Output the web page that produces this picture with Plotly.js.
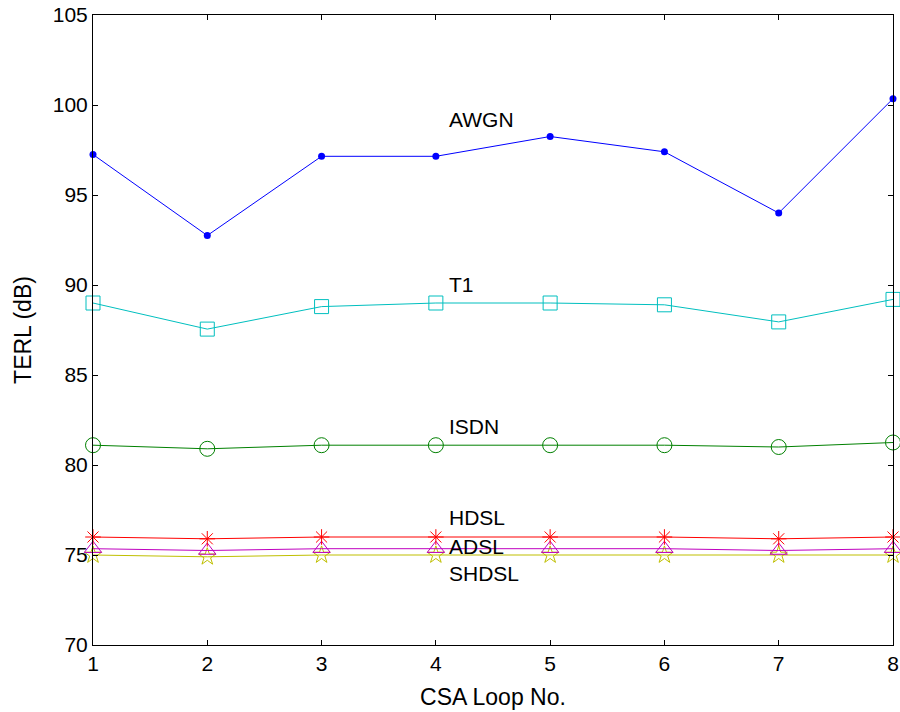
<!DOCTYPE html>
<html><head><meta charset="utf-8">
<script src="https://cdn.plot.ly/plotly-3.0.1.min.js"></script>
<style>body{margin:0;background:#fff}#c{width:900px;height:712px}</style>
</head><body><div id="c"></div><script>
const loops = [1,2,3,4,5,6,7,8];
const awgn  = [97.25, 92.75, 97.15, 97.15, 98.25, 97.4, 94.0, 100.35];
const t1    = [89.0, 87.55, 88.8, 89.0, 89.0, 88.9, 87.95, 89.2];
const isdn  = [81.1, 80.9, 81.1, 81.1, 81.1, 81.1, 81.0, 81.25];
const hdsl  = [76.0, 75.9, 76.0, 76.0, 76.0, 76.0, 75.9, 76.0];
const adsl  = [75.35, 75.25, 75.35, 75.35, 75.35, 75.35, 75.25, 75.35];
const shdsl = [75.0, 74.9, 75.0, 75.0, 75.0, 75.0, 75.0, 75.0];
const seriesNames = ['AWGN','T1','ISDN','HDSL','ADSL','SHDSL'];
const labelX = [4.1, 4.1, 4.1, 4.1, 4.1, 4.1];
const labelY = [99.2, 90.05, 82.15, 77.1, 75.45, 74.0];
const yTicks = [70,75,80,85,90,95,100,105];

const FONT = 'Liberation Sans, Arial, Helvetica';
function tr(y, color, symbol, size, w) {
  return {x: loops, y: y, type: 'scatter', mode: 'lines+markers', cliponaxis: false,
    line: {color: color, width: 1},
    marker: {symbol: symbol, size: size, color: color, line: {color: color, width: w}}};
}
const data = [
  tr(shdsl, '#bfbf00', 'star-open', 13, 1),
  tr(adsl, '#bf00bf', 'triangle-up-open', 15, 1),
  tr(hdsl, '#ff0000', 'asterisk-open', 13, 1),
  tr(isdn, '#008000', 'circle-open', 15, 1),
  tr(t1, '#00bfbf', 'square-open', 14, 1),
  tr(awgn, '#0000ff', 'circle', 7, 0)
];
const annotations = seriesNames.map((n,i)=>({x: labelX[i], y: labelY[i], text: n, xref:'x', yref:'y',
  showarrow:false, xanchor:'left', yanchor:'middle', font:{family:FONT, size:21, color:'#000'}}));
const axisCommon = {showline:true, mirror:'ticks', linecolor:'#000', linewidth:1, ticks:'inside', ticklen:5,
  tickcolor:'#000', showgrid:false, zeroline:false, tickfont:{family:FONT, size:21, color:'#000'}};
const layout = {
  width:900, height:712, margin:{l:93, r:7, t:15, b:67}, showlegend:false,
  paper_bgcolor:'#fff', plot_bgcolor:'#fff',
  xaxis: Object.assign({}, axisCommon, {range:[1,8], tickvals:loops, ticktext:loops.map(String),
    title:{text:'CSA Loop No.', font:{family:FONT, size:23, color:'#000'}, standoff:14}}),
  yaxis: Object.assign({}, axisCommon, {range:[70,105], tickvals:yTicks, ticktext:yTicks.map(String),
    title:{text:'TERL (dB)', font:{family:FONT, size:23, color:'#000'}, standoff:14}}),
  annotations: annotations
};
Plotly.newPlot('c', data, layout, {displayModeBar:false, staticPlot:true});
</script></body></html>
